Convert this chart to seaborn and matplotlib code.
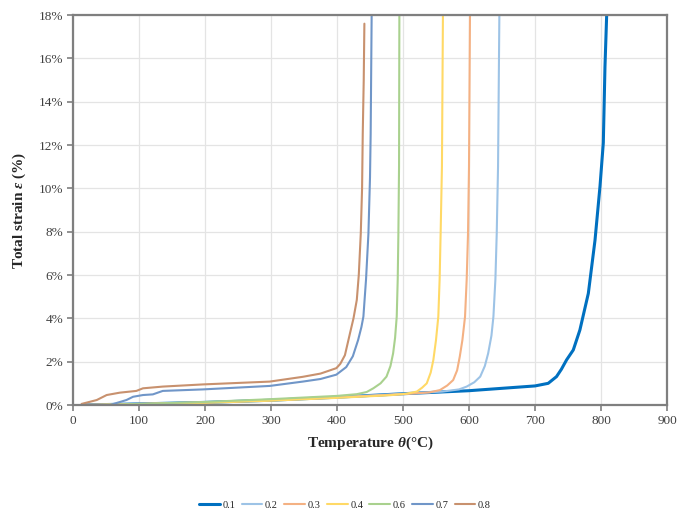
import matplotlib
matplotlib.use("Agg")
import matplotlib.pyplot as plt
import seaborn as sns
import numpy as np
import pandas as pd

series = ["0.1", "0.2", "0.3", "0.4", "0.6", "0.7", "0.8"]

t_01 = [15, 100, 200, 300, 400, 500, 600, 700, 720, 732.6, 740, 747.8, 758, 768, 780.8, 790.9, 798.5, 803.5, 806, 808.6]
e_01 = [0, 0.05, 0.12, 0.22, 0.36, 0.52, 0.66, 0.88, 1.0, 1.31, 1.65, 2.08, 2.54, 3.46, 5.15, 7.6, 10.1, 12.1, 15.6, 18.0]

t_02 = [15, 100, 200, 300, 400, 500, 560, 585, 596.5, 608, 617, 624, 629, 634, 637, 640, 642, 644, 646]
e_02 = [0, 0.05, 0.12, 0.22, 0.36, 0.52, 0.62, 0.72, 0.85, 1.05, 1.31, 1.8, 2.38, 3.2, 4.08, 5.8, 7.9, 11.0, 18.0]

t_03 = [15, 100, 200, 300, 400, 500, 540, 556, 567, 576, 582, 586, 590, 594, 596.5, 598.5, 600, 601.5]
e_03 = [0, 0.05, 0.12, 0.22, 0.35, 0.50, 0.58, 0.69, 0.9, 1.15, 1.6, 2.23, 3.0, 4.08, 5.8, 7.9, 11.0, 18.0]

t_04 = [15, 100, 200, 300, 400, 480, 505, 521, 529, 536, 542, 546, 550, 553.5, 555.5, 557, 559, 560.5]
e_04 = [0, 0.04, 0.10, 0.20, 0.33, 0.45, 0.52, 0.62, 0.8, 1.0, 1.5, 2.08, 3.0, 4.08, 5.8, 7.9, 11.0, 18.0]

t_06 = [40, 100, 200, 300, 400, 430, 445, 455, 466, 475, 481, 485, 488, 490.5, 492, 493, 494, 494.5]
e_06 = [0, 0.05, 0.14, 0.27, 0.42, 0.50, 0.6, 0.77, 1.0, 1.31, 1.8, 2.38, 3.1, 4.08, 5.8, 7.9, 11.0, 18.0]

t_07 = [15, 56, 81, 91, 106, 121, 136, 197, 298, 348, 375, 399, 414, 424, 432, 437, 440, 444, 447.6, 450, 451, 452.5]
e_07 = [0, 0, 0.23, 0.38, 0.46, 0.49, 0.65, 0.72, 0.88, 1.08, 1.2, 1.4, 1.75, 2.25, 3.0, 3.6, 4.08, 5.8, 7.9, 10.5, 12.5, 18.0]

t_08 = [13, 36, 51, 71, 96, 106, 136, 197, 298, 348, 375, 399, 405, 412, 419.6, 425, 430, 433, 436, 438, 439, 440.5, 441.5]
e_08 = [0.05, 0.23, 0.46, 0.57, 0.65, 0.77, 0.85, 0.95, 1.08, 1.3, 1.45, 1.7, 1.9, 2.3, 3.3, 4.0, 4.85, 6.0, 7.9, 10.0, 12.5, 15.0, 17.6]

x_ticks = [0, 100, 200, 300, 400, 500, 600, 700, 800, 900]
y_ticks = [0, 2, 4, 6, 8, 10, 12, 14, 16, 18]

data = {
    "0.1": (t_01, e_01), "0.2": (t_02, e_02), "0.3": (t_03, e_03), "0.4": (t_04, e_04),
    "0.6": (t_06, e_06), "0.7": (t_07, e_07), "0.8": (t_08, e_08),
}
colors = {"0.1": "#0070C0", "0.2": "#9DC3E6", "0.3": "#F4B183", "0.4": "#FFD966",
          "0.6": "#A9D18E", "0.7": "#7096C8", "0.8": "#C8916E"}
widths = {"0.1": 2.2, "0.2": 1.5, "0.3": 1.5, "0.4": 1.5, "0.6": 1.5, "0.7": 1.5, "0.8": 1.5}

sns.set_theme(style="white")
plt.rcParams["font.family"] = ["Liberation Serif", "DejaVu Serif"]
plt.rcParams["mathtext.fontset"] = "custom"
plt.rcParams["mathtext.it"] = "Liberation Serif:italic:bold"
plt.rcParams["mathtext.rm"] = "Liberation Serif:bold"

fig = plt.figure(figsize=(6.92, 5.15), dpi=100)
ax = fig.add_axes([73 / 692, 1 - 405 / 515, 594 / 692, 390 / 515])

for s in series:
    t, e = data[s]
    df = pd.DataFrame({"T": t, "e": e})
    sns.lineplot(data=df, x="T", y="e", ax=ax, color=colors[s], lw=widths[s],
                 label=s, sort=False, estimator=None)

ax.set_xlim(0, 900)
ax.set_ylim(0, 18)
ax.set_xticks(x_ticks)
ax.set_yticks(y_ticks)
ax.set_xticklabels([str(v) for v in x_ticks])
ax.set_yticklabels([f"{v}%" for v in y_ticks])
ax.grid(True, color="#E4E4E4", lw=0.9)
ax.set_axisbelow(True)
for sp in ax.spines.values():
    sp.set_color("#7F7F7F")
    sp.set_linewidth(1.6)
ax.tick_params(axis="both", which="both", direction="out", length=4, width=1.2,
               color="#7F7F7F", labelsize=9.5, labelcolor="#404040", pad=3)
ax.tick_params(axis="x", bottom=True)
ax.tick_params(axis="y", left=True)

ax.set_xlabel(r"Temperature $\theta$(°C)", fontsize=11, fontweight="bold", labelpad=6)
ax.set_ylabel(r"Total strain $\varepsilon$ (%)", fontsize=11, fontweight="bold", labelpad=8)

leg = ax.legend(loc="center", ncol=7, frameon=False, fontsize=7.5,
                handlelength=2.0, handletextpad=0.25, columnspacing=0.6)
leg.set_bbox_to_anchor((345 / 692, 1 - 505 / 515), transform=fig.transFigure)

fig.savefig("out.png", dpi=100)
